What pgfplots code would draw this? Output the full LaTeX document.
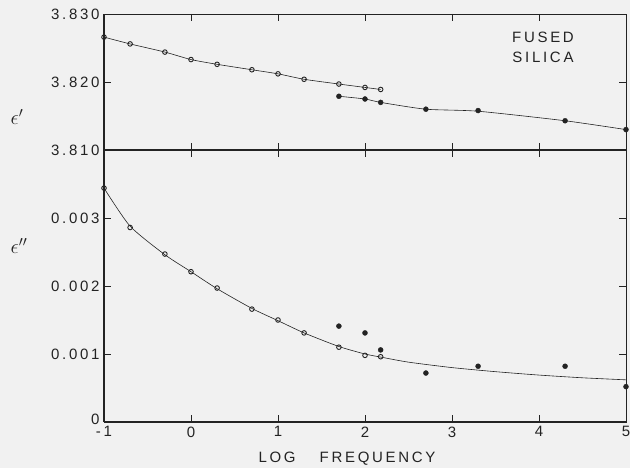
\documentclass[border=0pt]{standalone}
\usepackage{fontspec}
\setmainfont{Liberation Sans}[LetterSpace=18]
\usepackage{pgfplots}
\pgfplotsset{compat=1.18}
\definecolor{ink}{RGB}{35,35,35}
\definecolor{bg}{RGB}{241,241,241}
\pgfplotsset{
  mystyle/.style={
    scale only axis, width=522pt, xmin=-1, xmax=5, clip=false,
    anchor=south west,
    tick align=inside, major tick length=7pt,
    axis line style={ink, line width=0.8pt},
    every tick/.style={ink, line width=0.8pt},
    tick label style={font=\fontsize{15}{15}\selectfont, text=ink},
    /pgf/number format/assume math mode=true,
    scaled y ticks=false,
    xtick pos=both, ytick pos=both,
  },
  openm/.style={ink, only marks, mark=o, mark size=2.3pt, mark options={line width=0.9pt, fill=bg}},
  fillm/.style={ink, only marks, mark=*, mark size=2.5pt},
  curve/.style={ink, line width=0.6pt, smooth, tension=0.4, no marks},
}
\begin{document}
\begin{tikzpicture}
\fill[bg] (-104pt,-46pt) rectangle (526pt,422pt);
\path[use as bounding box] (-104pt,-46pt) rectangle (526pt,422pt);

% bottom panel
\begin{axis}[mystyle, at={(0pt,0pt)}, height=272pt,
  ymin=0, ymax=0.004,
  xtick={-1,0,1,2,3,4,5}, xticklabels={-1,0,1,2,3,4,5},
  ytick={0,0.001,0.002,0.003}, yticklabels={\raisebox{6pt}{0},0.001,0.002,0.003},
  xticklabel style={yshift=-1pt}, yticklabel style={xshift=-1pt},
]
\addplot[curve] coordinates {(-1,0.00344) (-0.7,0.00288) (-0.3,0.00246) (0,0.00221) (0.3,0.00196) (0.7,0.00167) (1,0.00149) (1.3,0.00131) (1.7,0.00111) (2,0.00100) (2.2,0.00095) (2.5,0.00088) (3,0.00080) (3.5,0.00074) (4,0.00069) (4.5,0.00065) (5,0.00062)};
\addplot[openm] coordinates {(-1,0.00344) (-0.7,0.00286) (-0.3,0.00247) (0,0.00221) (0.3,0.00197) (0.7,0.00166) (1,0.00150) (1.3,0.00131) (1.7,0.00110) (2,0.00098) (2.18,0.00096)};
\addplot[fillm] coordinates {(1.7,0.00141) (2,0.00131) (2.18,0.00106) (2.7,0.00072) (3.3,0.00082) (4.3,0.00082) (5,0.00052)};
\draw[ink, line width=1.6pt] (rel axis cs:0,0) -- (rel axis cs:0,1);
\draw[ink, line width=1.6pt] (rel axis cs:0,0) -- (rel axis cs:1,0);
\end{axis}

% top panel
\begin{axis}[mystyle, at={(0pt,272pt)}, height=136pt,
  ymin=3.810, ymax=3.830,
  xtick={0,1,2,3,4}, xticklabels={},
  ytick={3.81,3.82,3.83}, yticklabels={3.810,3.820,3.830},
  yticklabel style={xshift=-1pt},
]
\addplot[curve] coordinates {(-1,3.8266) (-0.7,3.8256) (-0.3,3.8244) (0,3.8233) (0.3,3.8226) (0.7,3.8218) (1,3.8212) (1.3,3.8204) (1.7,3.8197) (2,3.8192) (2.18,3.8189)};
\addplot[openm] coordinates {(-1,3.8266) (-0.7,3.8256) (-0.3,3.8244) (0,3.8233) (0.3,3.8226) (0.7,3.8218) (1,3.8212) (1.3,3.8204) (1.7,3.8197) (2,3.8192) (2.18,3.8189)};
\addplot[curve] coordinates {(1.7,3.8179) (2,3.8175) (2.18,3.8170) (2.7,3.8160) (3.3,3.8157) (4.3,3.8143) (5,3.8130)};
\addplot[fillm] coordinates {(1.7,3.8179) (2,3.8175) (2.18,3.8170) (2.7,3.8160) (3.3,3.8158) (4.3,3.8143) (5,3.8130)};
\draw[ink, line width=1.6pt] (rel axis cs:0,0) -- (rel axis cs:0,1);
\draw[ink, line width=1.6pt] (rel axis cs:0,0) -- (rel axis cs:1,0);
\end{axis}

\node[text=ink, font=\fontsize{22}{22}\selectfont] at (-87pt,305pt) {$\epsilon'$};
\node[text=ink, font=\fontsize{22}{22}\selectfont] at (-85pt,176pt) {$\epsilon''$};
\node[text=ink, align=center, font=\fontsize{15}{20}\selectfont] at (439pt,374.5pt) {FUSED\\SILICA};
\node[text=ink, font=\fontsize{15}{15}\selectfont] at (243pt,-37pt) {LOG\hspace{24pt}FREQUENCY};
\end{tikzpicture}
\end{document}
